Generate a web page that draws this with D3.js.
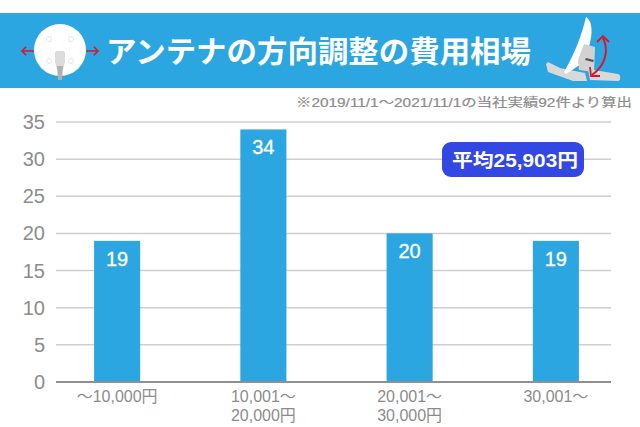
<!DOCTYPE html>
<html>
<head>
<meta charset="utf-8">
<style>
  html, body { margin: 0; padding: 0; background: #fff; }
  svg { display: block; }
  text { font-family: "Liberation Sans", "Noto Sans CJK JP", sans-serif; }
</style>
<script src="https://d3js.org/d3.v7.min.js"></script>
</head>
<body>
<svg id="mainSvg" width="640" height="427"></svg>
<script>
const categories = ['〜10,000円', '10,001〜|20,000円', '20,001〜|30,000円', '30,001〜']
const counts = [19, 34, 20, 19]
const yTicks = [0, 5, 10, 15, 20, 25, 30, 35]
const titleText = 'アンテナの方向調整の費用相場'
const noteText = '※2019/11/1〜2021/11/1の当社実績92件より算出'
const averageText = '平均25,903円'

const blue = '#2ca6e0', grey = '#8c8c8c'
const svg = d3.select('#mainSvg')

const xScale = d3.scaleBand().domain(categories).range([44, 629]).paddingInner(0.685).paddingOuter(0.3425)
const yScale = d3.scaleLinear().domain([0, 35]).range([382, 122])
const plotLeft = 56, plotRight = 611

// grid
svg.append('g').selectAll('line').data(yTicks.filter(d => d > 0)).enter().append('line')
   .attr('x1', plotLeft).attr('x2', plotRight)
   .attr('y1', d => yScale(d)).attr('y2', d => yScale(d))
   .attr('stroke', '#cfcfcf').attr('stroke-width', 1.5)

// y labels
svg.append('g').selectAll('text').data(yTicks).enter().append('text')
   .attr('x', 45).attr('y', d => yScale(d) + 7)
   .attr('text-anchor', 'end').attr('font-size', 20).attr('fill', grey)
   .text(d => d)

// bars
svg.append('g').selectAll('rect').data(categories).enter().append('rect')
   .attr('x', d => xScale(d)).attr('width', xScale.bandwidth())
   .attr('y', (d, i) => yScale(counts[i]))
   .attr('height', (d, i) => yScale(0) - yScale(counts[i]))
   .attr('fill', blue)

svg.append('g').selectAll('text').data(categories).enter().append('text')
   .attr('x', d => xScale(d) + xScale.bandwidth() / 2)
   .attr('y', (d, i) => yScale(counts[i]) + 25)
   .attr('text-anchor', 'middle').attr('font-size', 20).attr('fill', '#fff')
   .attr('stroke', '#fff').attr('stroke-width', 0.3)
   .text((d, i) => counts[i])

// baseline
svg.append('line').attr('x1', plotLeft).attr('x2', plotRight).attr('y1', 382).attr('y2', 382)
   .attr('stroke', '#909090').attr('stroke-width', 2)

// x labels
categories.forEach(c => {
   const t = svg.append('text').attr('text-anchor', 'middle').attr('font-size', 16).attr('fill', grey)
   c.split('|').forEach((line, i) => {
      t.append('tspan')
         .attr('x', xScale(c) + xScale.bandwidth() / 2)
         .attr('y', 402 + i * 18.5)
         .text(line)
   })
})

// header band
svg.append('rect').attr('x', 0).attr('y', 13).attr('width', 640).attr('height', 75).attr('fill', blue)
svg.append('text').attr('x', 106).attr('y', 62)
   .attr('font-size', 30).attr('font-weight', 700).attr('fill', '#fff')
   .attr('textLength', 425).attr('lengthAdjust', 'spacingAndGlyphs')
   .style('font-family', '"Noto Sans CJK JP", sans-serif')
   .text(titleText)

// note
svg.append('text').attr('x', 632).attr('y', 107).attr('text-anchor', 'end')
   .attr('font-size', 12).attr('fill', grey)
   .attr('stroke', grey).attr('stroke-width', 0.2)
   .attr('textLength', 336).attr('lengthAdjust', 'spacingAndGlyphs')
   .text(noteText)

// average badge
svg.append('rect').attr('x', 442).attr('y', 142).attr('width', 142).attr('height', 35).attr('rx', 9)
   .attr('fill', '#3347e3')
svg.append('text').attr('x', 515).attr('y', 167).attr('text-anchor', 'middle')
   .attr('font-size', 18).attr('font-weight', 700).attr('fill', '#fff')
   .attr('textLength', 126).attr('lengthAdjust', 'spacingAndGlyphs')
   .text(averageText)

// round antenna icon
const arrow = (x1, y1, x2, y2) => {
   const a = Math.atan2(y2 - y1, x2 - x1), h = 6
   const p = svg.append('path').attr('fill', 'none').attr('stroke', '#d7182a').attr('stroke-width', 1.6)
   p.attr('d', `M${x1},${y1}L${x2},${y2}M${x2 - h * Math.cos(a - 0.8)},${y2 - h * Math.sin(a - 0.8)}L${x2},${y2}L${x2 - h * Math.cos(a + 0.8)},${y2 - h * Math.sin(a + 0.8)}`)
}
arrow(34, 51, 22, 51)
arrow(86, 51, 98, 51)
svg.append('circle').attr('cx', 60).attr('cy', 50).attr('r', 26).attr('fill', '#fff')
;[[49, 39], [71, 39], [49, 61], [71, 61]].forEach(p => {
   svg.append('circle').attr('cx', p[0]).attr('cy', p[1]).attr('r', 2.5)
      .attr('fill', 'none').attr('stroke', '#e6e6e6').attr('stroke-width', 1)
})
svg.append('path').attr('d', 'M55,53Q55,51 57,51L63,51Q65,51 65,53L65,62L63,70L57,70L55,62Z').attr('fill', '#dcdcdc')
svg.append('path').attr('d', 'M57,66L63,66L62,80L58,80Z').attr('fill', '#b0b0b0')

// dish icon
svg.append('path').attr('d', 'M546,64L548,62L560,68L585,73L587,81L573,81L548,72Z').attr('fill', '#d9d9d9')
svg.append('path').attr('d', 'M588,69L618,74Q621,75 620,79Q620,81 617,81L590,80Z').attr('fill', '#d9d9d9')
svg.append('path').attr('d', 'M586,17C595,22 593,45 581,64L566,74L564,72C574,55 582,35 586,17Z').attr('fill', '#fff')
svg.append('path').attr('d', 'M584,44L595,47L594,72L579,70L578,60Z').attr('fill', '#d2d2d2')
svg.append('path').attr('d', 'M586,58L594,60L593,62L585,60Z').attr('fill', '#555')
svg.append('path').attr('d', 'M603,38C609,50 606,65 592,75').attr('fill', 'none').attr('stroke', '#d7182a').attr('stroke-width', 2)
svg.append('path').attr('d', 'M597,42L603,36L609,42').attr('fill', 'none').attr('stroke', '#d7182a').attr('stroke-width', 1.8)
svg.append('path').attr('d', 'M590,67L591,76L600,76').attr('fill', 'none').attr('stroke', '#d7182a').attr('stroke-width', 1.8)
</script>
</body>
</html>
